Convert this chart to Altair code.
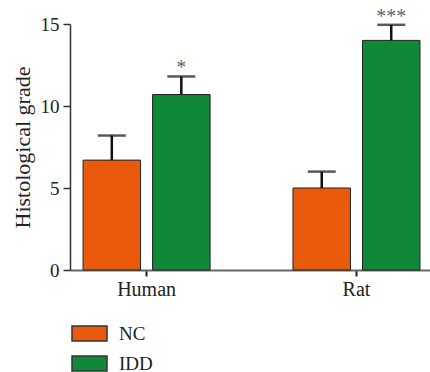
import altair as alt
import pandas as pd

species = ["Human", "Human", "Rat", "Rat"]
groups = ["NC", "IDD", "NC", "IDD"]
means = [6.7, 10.7, 5.0, 14.0]
errors = [1.5, 1.1, 1.0, 0.95]
stars = ["", "*", "", "***"]

group_order = ["NC", "IDD"]
group_colors = ["#EA5A0D", "#0F8837"]
y_ticks = [0, 5, 10, 15]

FONT = "Liberation Serif"

df = pd.DataFrame({"species": species, "group": groups, "mean": means,
                   "err": errors, "star": stars})

x_enc = alt.X("species:N", sort=["Human", "Rat"],
              scale=alt.Scale(paddingInner=0.395, paddingOuter=0.055, align=0.566),
              axis=alt.Axis(title=None, labelAngle=0, labelFont=FONT, labelFontSize=20,
                            labelColor="#222", labelPadding=3, domainColor="#666",
                            domainWidth=2, tickColor="#222", tickSize=6, tickWidth=2))
xo_enc = alt.XOffset("group:N", sort=group_order,
                     scale=alt.Scale(paddingInner=0.173, paddingOuter=0))
y_scale = alt.Scale(domain=[0, 15], nice=False)

base = alt.Chart(df).transform_calculate(upper="datum.mean + datum.err")

bars = base.mark_bar(stroke="#222", strokeWidth=1).encode(
    x=x_enc,
    xOffset=xo_enc,
    y=alt.Y("mean:Q", scale=y_scale,
            axis=alt.Axis(values=y_ticks, grid=False, title="Histological grade",
                          titleFont=FONT, titleFontSize=22, titleFontWeight="normal",
                          titleColor="#222", titlePadding=6,
                          labelFont=FONT, labelFontSize=19, labelColor="#222",
                          labelPadding=4, domainColor="#333", domainWidth=1.5,
                          tickColor="#333", tickSize=7, tickWidth=1.5)),
    color=alt.Color("group:N", sort=group_order,
                    scale=alt.Scale(domain=group_order, range=group_colors),
                    legend=alt.Legend(title=None, orient="none", legendX=1, legendY=291,
                                      direction="vertical",
                                      symbolType="M-1,-0.43L1,-0.43L1,0.43L-1,0.43Z",
                                      symbolSize=1225, symbolStrokeColor="#333",
                                      symbolStrokeWidth=1.5, symbolOpacity=1,
                                      labelFont=FONT, labelFontSize=19, labelColor="#222",
                                      labelOffset=11, rowPadding=-5)),
)

err_rule = base.mark_rule(color="#111", strokeWidth=2.5).encode(
    x=x_enc, xOffset=xo_enc,
    y=alt.Y("mean:Q", scale=y_scale), y2="upper:Q")

caps = base.mark_tick(color="#111", size=28, thickness=2.5, orient="horizontal").encode(
    x=x_enc, xOffset=xo_enc, y=alt.Y("upper:Q", scale=y_scale))

labels = base.mark_text(font=FONT, fontSize=20, color="#666", baseline="alphabetic",
                        dy=-2).encode(
    x=x_enc, xOffset=xo_enc, y=alt.Y("upper:Q", scale=y_scale), text="star:N")

chart = alt.layer(bars, err_rule, caps, labels).properties(
    width=360, height=246,
    autosize=alt.AutoSizeParams(type="none"),
    padding={"left": 70, "top": 24, "right": 0, "bottom": 102},
).configure_view(stroke=None)

chart.save("out.html", embed_options={"renderer": "svg", "actions": False})
